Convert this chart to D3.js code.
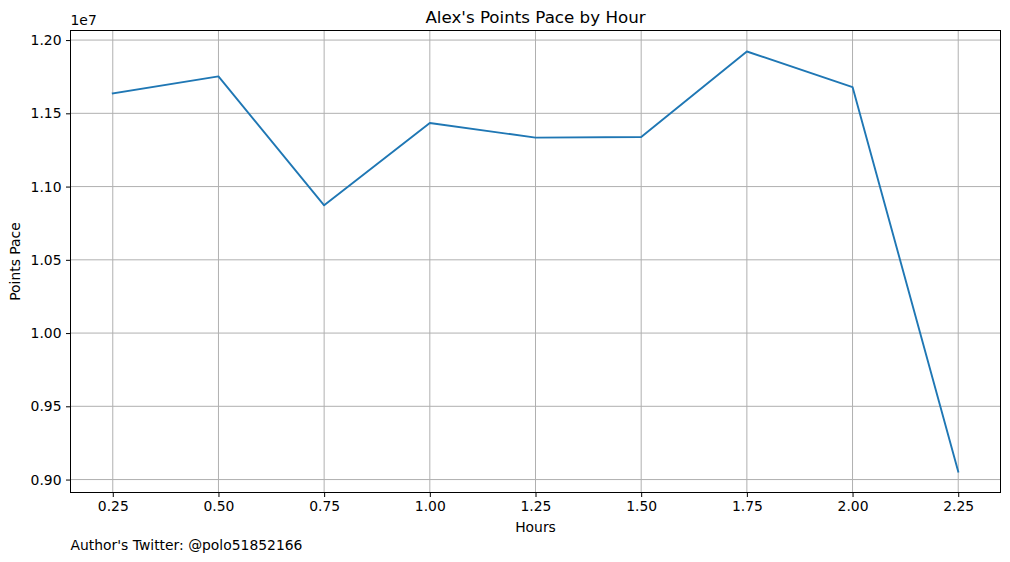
<!DOCTYPE html>
<html><head><meta charset="utf-8">
<script src="https://cdn.jsdelivr.net/npm/d3@7"></script>
<style>body{margin:0;background:#fff}svg{display:block}text{font-family:"DejaVu Sans",sans-serif;fill:#000}</style>
</head><body><svg id="c" width="1010" height="562"></svg>
<script>
const hours = [0.25, 0.50, 0.75, 1.00, 1.25, 1.50, 1.75, 2.00, 2.25];
const pointsPace = [11636000, 11752000, 10872000, 11434000, 11334000, 11338000, 11922000, 11679000, 9055000];
const xTicks = [0.25, 0.50, 0.75, 1.00, 1.25, 1.50, 1.75, 2.00, 2.25];
const yTicks = [0.90, 0.95, 1.00, 1.05, 1.10, 1.15, 1.20];
const title = "Alex's Points Pace by Hour";
const xLabel = "Hours", yLabel = "Points Pace", footer = "Author's Twitter: @polo51852166";

const svg = d3.select("#c");
const L = 70.5, R = 1000.5, T = 30.5, B = 492.5;
const xMin = d3.min(hours), xMax = d3.max(hours), xPad = (xMax - xMin) * 0.05;
const yv = pointsPace.map(v => v / 1e7);
const yMin = d3.min(yv), yMax = d3.max(yv), yPad = (yMax - yMin) * 0.05;
const x = d3.scaleLinear().domain([xMin - xPad, xMax + xPad]).range([L, R]);
const y = d3.scaleLinear().domain([yMin - yPad, yMax + yPad]).range([B, T]);
const fs = 13.9;

// grid
const g = svg.append("g");
g.selectAll(".gx").data(xTicks).join("line").attr("x1", d => x(d)).attr("x2", d => x(d)).attr("y1", T).attr("y2", B).attr("stroke", "#b0b0b0").attr("stroke-width", 1);
g.selectAll(".gy").data(yTicks).join("line").attr("y1", d => y(d)).attr("y2", d => y(d)).attr("x1", L).attr("x2", R).attr("stroke", "#b0b0b0").attr("stroke-width", 1);

// line
svg.append("path").datum(hours.map((h, i) => [h, yv[i]]))
  .attr("d", d3.line().x(d => x(d[0])).y(d => y(d[1])))
  .attr("fill", "none").attr("stroke", "#1f77b4").attr("stroke-width", 1.9).attr("stroke-linejoin", "round").attr("stroke-linecap", "square");

// axes
const xa = svg.append("g").attr("transform", `translate(0,${B})`)
  .call(d3.axisBottom(x).tickValues(xTicks).tickFormat(d3.format(".2f")).tickSizeInner(4.5).tickSizeOuter(0).tickPadding(4.5));
const ya = svg.append("g").attr("transform", `translate(${L},0)`)
  .call(d3.axisLeft(y).tickValues(yTicks).tickFormat(d3.format(".2f")).tickSizeInner(4.5).tickSizeOuter(0).tickPadding(4.5));
[xa, ya].forEach(a => {
  a.select(".domain").remove();
  a.selectAll("text").attr("font-size", fs).attr("font-family", "DejaVu Sans");
  a.selectAll("line").attr("stroke", "#000").attr("stroke-width", 1);
});

// spines
svg.append("rect").attr("x", L).attr("y", T).attr("width", R - L).attr("height", B - T).attr("fill", "none").attr("stroke", "#000").attr("stroke-width", 1);

// texts
svg.append("text").attr("x", (L + R) / 2).attr("y", T - 8).attr("text-anchor", "middle").attr("font-size", 16.7).text(title);
svg.append("text").attr("x", (L + R) / 2).attr("y", 532).attr("text-anchor", "middle").attr("font-size", fs).text(xLabel);
svg.append("text").attr("transform", `translate(20,${(T + B) / 2}) rotate(-90)`).attr("text-anchor", "middle").attr("font-size", fs).text(yLabel);
svg.append("text").attr("x", L).attr("y", 25).attr("font-size", fs).text("1e7");
svg.append("text").attr("x", L).attr("y", 550).attr("font-size", fs).text(footer);
</script></body></html>
